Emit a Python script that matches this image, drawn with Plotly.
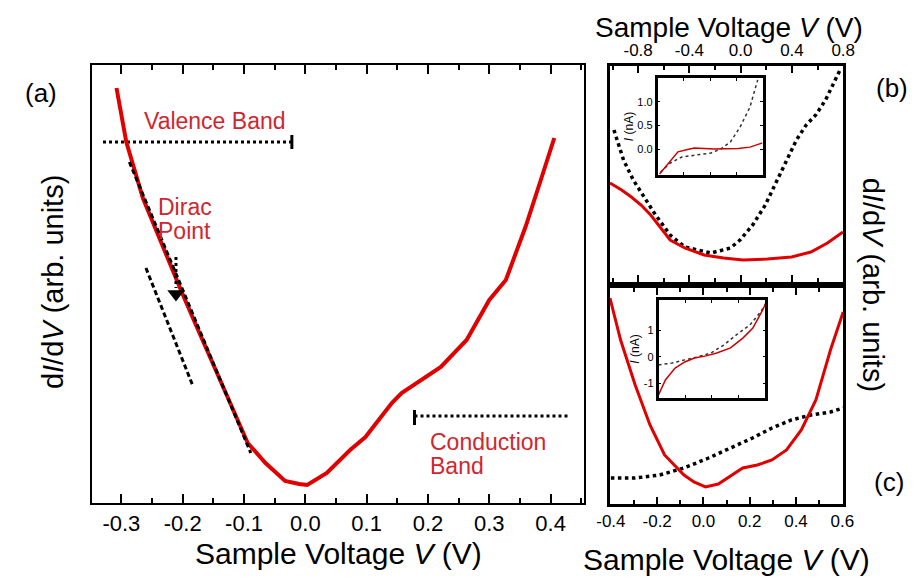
import plotly.graph_objects as go

# ---------------- data ----------------
# Panel (a): dI/dV vs sample voltage
a_v = [-0.308, -0.292, -0.265, -0.226, -0.201, -0.177, -0.153, -0.120, -0.094, -0.065,
       -0.033, -0.010, 0.003, 0.035, 0.073, 0.098, 0.141, 0.157, 0.189, 0.221, 0.263,
       0.300, 0.327, 0.359, 0.384, 0.406]
a_didv = [4.15, 3.61, 3.05, 2.46, 2.10, 1.76, 1.43, 0.96, 0.60, 0.40,
          0.22, 0.19, 0.18, 0.30, 0.53, 0.66, 1.00, 1.10, 1.23, 1.36, 1.63,
          2.03, 2.23, 2.76, 3.23, 3.65]
tan1_v = [-0.287, -0.089]
tan1_y = [3.41, 0.50]
tan2_v = [-0.260, -0.184]
tan2_y = [2.35, 1.18]
vb_v = [-0.330, -0.022]          # valence band marker line
vb_y = 3.61
vb_cap = [3.68, 3.54]
cb_v = [0.178, 0.432]            # conduction band marker line
cb_y = 0.87
cb_cap = [0.93, 0.78]
dirac_v = -0.211
dirac_arrow = [2.46, 2.15]
dirac_head = 2.09
a_ticks = [-0.3, -0.2, -0.1, 0.0, 0.1, 0.2, 0.3, 0.4]
a_ticktext = ["-0.3", "-0.2", "-0.1", "0.0", "0.1", "0.2", "0.3", "0.4"]
a_minor = [-0.25, -0.15, -0.05, 0.05, 0.15, 0.25, 0.35, 0.45]

# Panel (b)
b_red_v = [-1.020, -0.929, -0.853, -0.777, -0.702, -0.626, -0.550, -0.436, -0.285, -0.133,
           0.018, 0.208, 0.397, 0.548, 0.677, 0.798]
b_red_y = [0.99, 0.92, 0.85, 0.77, 0.67, 0.54, 0.42, 0.34, 0.27, 0.24,
           0.22, 0.23, 0.25, 0.30, 0.39, 0.50]
b_dot_v = [-0.989, -0.914, -0.838, -0.762, -0.664, -0.550, -0.436, -0.232, -0.080, -0.005,
           0.094, 0.192, 0.283, 0.359, 0.435, 0.511, 0.586, 0.662, 0.738, 0.783]
b_dot_y = [1.52, 1.22, 1.02, 0.87, 0.67, 0.47, 0.35, 0.29, 0.34, 0.42,
           0.57, 0.77, 1.02, 1.22, 1.42, 1.57, 1.67, 1.82, 2.02, 2.14]
b_ticks = [-0.8, -0.4, 0.0, 0.4, 0.8]
b_ticktext = ["-0.8", "-0.4", "0.0", "0.4", "0.8"]
b_minor = [-1.0, -0.6, -0.2, 0.2, 0.6]

# Inset of (b): I(V)
bi_red_u = [0.019, 0.093, 0.194, 0.306, 0.352, 0.537, 0.630, 0.769, 0.880, 1.0]
bi_red_i = [-0.53, -0.34, -0.06, 0.0, 0.02, 0.0, 0.0, 0.01, 0.04, 0.13]
bi_dot_u = [0.028, 0.120, 0.231, 0.352, 0.509, 0.602, 0.694, 0.787, 0.880, 0.954]
bi_dot_i = [-0.49, -0.30, -0.17, -0.13, -0.085, 0.0, 0.15, 0.47, 0.89, 1.47]
bi_ticks = [0.0, 0.5, 1.0]
bi_ticktext = ["0.0", "0.5", "1.0"]

# Panel (c)
c_red_v = [-0.404, -0.358, -0.295, -0.231, -0.168, -0.084, -0.041, 0.009, 0.064, 0.106,
           0.170, 0.233, 0.296, 0.359, 0.423, 0.486, 0.549, 0.604]
c_red_y = [2.06, 1.64, 1.19, 0.79, 0.49, 0.29, 0.22, 0.17, 0.20, 0.26,
           0.36, 0.39, 0.44, 0.54, 0.74, 1.04, 1.54, 1.92]
c_dot_v = [-0.400, -0.295, -0.189, -0.084, 0.022, 0.127, 0.212, 0.296, 0.380, 0.465, 0.549, 0.604]
c_dot_y = [0.26, 0.26, 0.29, 0.36, 0.46, 0.57, 0.66, 0.76, 0.84, 0.89, 0.92, 0.96]
c_ticks = [-0.4, -0.2, 0.0, 0.2, 0.4, 0.6]
c_ticktext = ["-0.4", "-0.2", "0.0", "0.2", "0.4", "0.6"]
c_minor = [-0.3, -0.1, 0.1, 0.3, 0.5]

# Inset of (c): I(V)
ci_red_u = [0.0, 0.064, 0.155, 0.245, 0.336, 0.445, 0.545, 0.673, 0.791, 0.882, 0.973, 1.0]
ci_red_i = [-1.43, -0.87, -0.42, -0.19, -0.04, 0.04, 0.15, 0.34, 0.72, 1.09, 1.77, 2.0]
ci_dot_u = [0.0, 0.127, 0.245, 0.364, 0.491, 0.609, 0.727, 0.855, 0.955, 1.0]
ci_dot_i = [-0.30, -0.23, -0.11, 0.0, 0.15, 0.45, 0.83, 1.21, 1.70, 2.0]
ci_ticks = [-1, 0, 1]
ci_ticktext = ["-1", "0", "1"]

# ---------------- figure ----------------
W, H = 923, 583
OX, OY = 8, 8            # page (body) offset of the plot div
FONT = "Liberation Sans, Arial, sans-serif"
RED = "#e00000"
TXT = "#d0262e"

def px(p):
    return (p - OX) / W

def py(p):
    return 1 - (p - OY) / H

fig = go.Figure()

def line(x, y, xa, ya, color, width, dash="solid"):
    fig.add_trace(go.Scatter(x=x, y=y, xaxis=xa, yaxis=ya, mode="lines",
                             line=dict(color=color, width=width, dash=dash),
                             hoverinfo="skip", showlegend=False))

# panel (a)
line(vb_v, [vb_y, vb_y], "x", "y", "black", 3, "dot")
line([vb_v[1], vb_v[1]], vb_cap, "x", "y", "black", 3)
line(cb_v, [cb_y, cb_y], "x", "y", "black", 3, "dot")
line([cb_v[0], cb_v[0]], cb_cap, "x", "y", "black", 3)
line(a_v, a_didv, "x", "y", RED, 4)
line(tan1_v, tan1_y, "x", "y", "black", 3, "5px,3px")
line(tan2_v, tan2_y, "x", "y", "black", 3, "5px,3px")
line([dirac_v, dirac_v], dirac_arrow, "x", "y", "black", 3, "dot")
fig.add_trace(go.Scatter(x=[dirac_v], y=[dirac_head], xaxis="x", yaxis="y", mode="markers",
                         marker=dict(symbol="triangle-down", size=15, color="black"),
                         hoverinfo="skip", showlegend=False))

# panel (b)
line(b_dot_v, b_dot_y, "x2", "y2", "black", 3.5, "dot")
line(b_red_v, b_red_y, "x2", "y2", RED, 3)
line(bi_dot_u, bi_dot_i, "x4", "y4", "#333333", 1.5, "dot")
line(bi_red_u, bi_red_i, "x4", "y4", "#cc0000", 1.5)

# panel (c)
line(c_dot_v, c_dot_y, "x3", "y3", "black", 3.5, "dot")
line(c_red_v, c_red_y, "x3", "y3", RED, 3)
line(ci_dot_u, ci_dot_i, "x5", "y5", "#333333", 1.5, "dot")
line(ci_red_u, ci_red_i, "x5", "y5", "#cc0000", 1.5)

base = dict(showline=True, linecolor="black", showgrid=False, zeroline=False,
            tickcolor="black", fixedrange=True)

def minor(vals, ln):
    return dict(tickvals=vals, ticks="inside", ticklen=ln, tickwidth=2, tickcolor="black")

fig.update_layout(
    width=W, height=H, margin=dict(l=0, r=0, t=0, b=0),
    paper_bgcolor="white", plot_bgcolor="white",
    font=dict(family=FONT, color="black"),
    xaxis=dict(base, domain=[px(80), px(586)], anchor="y", range=[-0.348, 0.454],
               linewidth=2, mirror="ticks", ticks="inside", ticklen=9, tickwidth=2,
               tickvals=a_ticks, ticktext=a_ticktext, tickfont=dict(size=22),
               minor=minor(a_minor, 5)),
    yaxis=dict(base, domain=[py(503), py(65)], anchor="x", range=[0, 4.38],
               linewidth=2, mirror=True, ticks="", showticklabels=False),
    xaxis2=dict(base, domain=[px(613), px(853)], anchor="y2", side="top", range=[-1.02, 0.80],
                linewidth=2.5, mirror="ticks", ticks="inside", ticklen=7, tickwidth=2,
                tickvals=b_ticks, ticktext=b_ticktext, tickfont=dict(size=17),
                minor=minor(b_minor, 4)),
    yaxis2=dict(base, domain=[py(282), py(66)], anchor="x2", range=[0, 2.16],
                linewidth=2.5, mirror=True, ticks="", showticklabels=False),
    xaxis3=dict(base, domain=[px(613), px(853)], anchor="y3", range=[-0.404, 0.604],
                linewidth=2.5, mirror="ticks", ticks="inside", ticklen=7, tickwidth=2,
                tickvals=c_ticks, ticktext=c_ticktext, tickfont=dict(size=17),
                minor=minor(c_minor, 4)),
    yaxis3=dict(base, domain=[py(504), py(288)], anchor="x3", range=[0, 2.16],
                linewidth=2.5, mirror=True, ticks="", showticklabels=False),
    xaxis4=dict(base, domain=[px(662), px(770)], anchor="y4", range=[0, 1],
                linewidth=2.5, mirror="ticks", ticks="inside", ticklen=3, tickwidth=1,
                tickvals=[0.25, 0.5, 0.75], showticklabels=False),
    yaxis4=dict(base, domain=[py(175), py(78)], anchor="x4", range=[-0.553, 1.51],
                linewidth=2.5, mirror="ticks", ticks="inside", ticklen=3, tickwidth=1,
                tickvals=bi_ticks, ticktext=bi_ticktext, tickfont=dict(size=11),
                title=dict(text="<i>I</i> (nA)", font=dict(size=12), standoff=2)),
    xaxis5=dict(base, domain=[px(663), px(773)], anchor="y5", range=[0, 1],
                linewidth=2.5, mirror="ticks", ticks="inside", ticklen=3, tickwidth=1,
                tickvals=[0.25, 0.5, 0.75], showticklabels=False),
    yaxis5=dict(base, domain=[py(398), py(300)], anchor="x5", range=[-1.55, 2.15],
                linewidth=2.5, mirror="ticks", ticks="inside", ticklen=3, tickwidth=1,
                tickvals=ci_ticks, ticktext=ci_ticktext, tickfont=dict(size=11),
                title=dict(text="<i>I</i> (nA)", font=dict(size=12), standoff=2)),
)

def note(text, x, y, size, color="black", angle=0, xanchor="center", xref="paper", yref="paper"):
    fig.add_annotation(text=text, x=x, y=y, xref=xref, yref=yref, showarrow=False,
                       font=dict(size=size, color=color, family=FONT), textangle=angle,
                       xanchor=xanchor, yanchor="middle")

TITLE = "Sample Voltage <i>V</i> (V)"
YT = "d<i>I</i>/d<i>V</i> (arb. units)"
note(TITLE, px(334), py(553), 30)
note(TITLE, px(735), py(27), 28)
note(TITLE, px(733), py(559), 30)
note(YT, px(40), py(282), 29, angle=-90)
note(YT, px(884), py(285), 29, angle=90)
note("(a)", px(28), py(93), 26)
note("(b)", px(903), py(88), 26)
note("(c)", px(900), py(482), 26)

note("Valence Band", -0.148, 3.82, 23, TXT, xref="x", yref="y")
note("Dirac", -0.244, 2.96, 23, TXT, xanchor="left", xref="x", yref="y")
note("Point", -0.244, 2.72, 23, TXT, xanchor="left", xref="x", yref="y")
note("Conduction", 0.200, 0.61, 23, TXT, xanchor="left", xref="x", yref="y")
note("Band", 0.200, 0.37, 23, TXT, xanchor="left", xref="x", yref="y")

fig.write_html("out.html")
